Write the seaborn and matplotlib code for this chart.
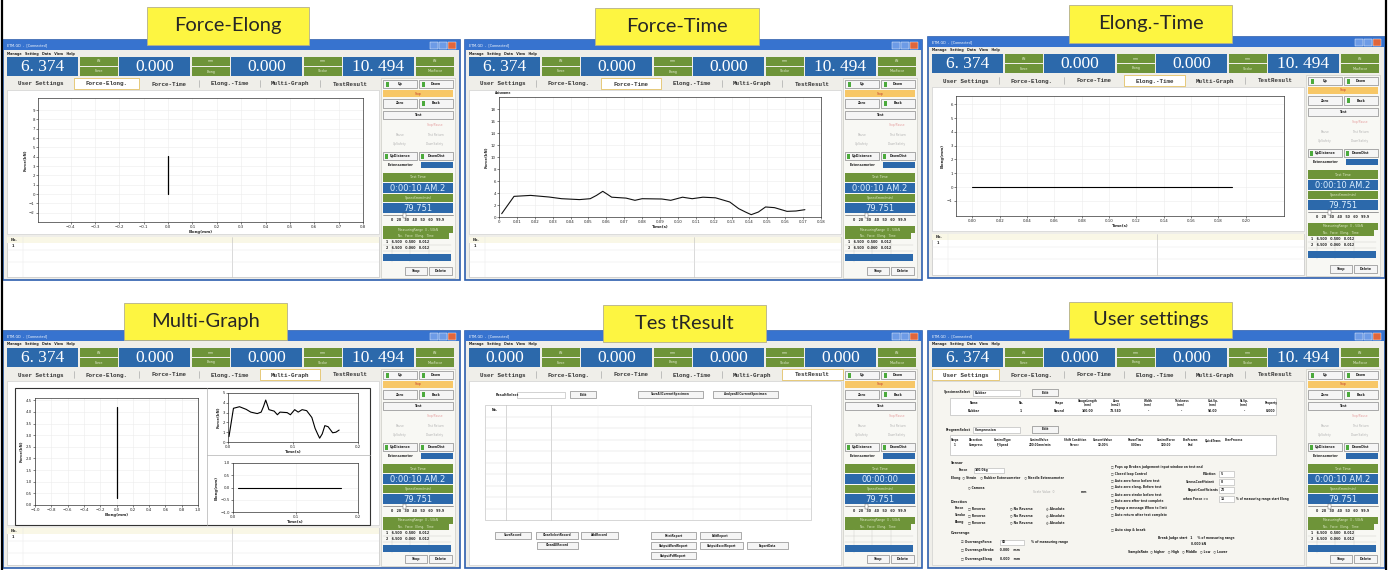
import numpy as np
import matplotlib
matplotlib.use('Agg')
import matplotlib.pyplot as plt
from matplotlib.patches import Rectangle
import seaborn as sns

# ---- values ----
panel_titles = ['Force-Elong', 'Force-Time', 'Elong.-Time', 'Multi-Graph', 'Tes tResult', 'User settings']
tab_names = ['User Settings', 'Force-Elong.', 'Force-Time', 'Elong.-Time', 'Multi-Graph', 'TestResult']
readouts = ['6. 374', '0.000', '0.000', '10. 494']
readouts_zero = ['0.000', '0.000', '0.000', '0.000']
readout_units = ['kN', 'mm', 'mm', 'kN']
readout_names = ['Force', 'Elong', 'Stroke', 'MaxForce']
clock_running = '0:00:10 AM.2'
clock_idle = '00:00:00'
speed_value = '79.751'
range_rows = ['1   6.500   0.500   0.012', '2   6.500   0.060   0.012']

# Force-Elong tab
fe_elong = [0.0, 0.0]
fe_force = [0.0, 4.1]

# Force-Time tab
ft_time = [0.0015, 0.004, 0.0084, 0.0177, 0.028, 0.035, 0.045, 0.051, 0.0545, 0.058, 0.0605, 0.063,
           0.071, 0.076, 0.080, 0.091, 0.096, 0.1026, 0.108, 0.114, 0.121, 0.129, 0.134, 0.138,
           0.141, 0.145, 0.149, 0.154, 0.161, 0.166, 0.171]
ft_force = [0.55, 1.6, 3.44, 3.6, 3.33, 3.05, 2.9, 3.05, 3.6, 4.28, 3.8, 3.3,
            3.15, 2.78, 3.05, 3.0, 2.78, 3.3, 3.05, 3.3, 3.2, 2.5, 1.39, 0.8,
            0.39, 0.83, 1.67, 1.56, 0.94, 1.0, 1.22]

# Elong-Time tab
et_time = [0.0, 0.19]
et_elong = [0.0, 0.0]

# Multi-Graph tab
mg_elong = [0.0, 0.0]
mg_force = [0.3, 4.2]
mg_time = [0.008, 0.172]
mg_elong_t = [0.0, 0.0]

# TestResult / User settings texts
result_buttons = ['SaveRecord', 'ClearSelectRecord', 'AddRecord', 'ClearAllRecord', 'PrintReport',
                  'EditReport', 'OutputWordReport', 'OutputExcelReport', 'ExportData', 'OutputPdfReport']
spec_headers = ['Name', 'No.', 'Shape', 'GaugeLength\n(mm)', 'Area\n(mm2)', 'Width\n(mm)',
                'Thickness\n(mm)', 'Cut.Sp.\n(mm)', 'St.Sp.\n(mm)', 'Property']
spec_values = ['Rubber', '1', 'Round', '100.00', '78.540', '-', '-', '50.00', '-', '0.000']
prog_headers = ['Steps', 'Direction', 'ControlType', 'ControlValue', 'Shift Condition',
                'ConvertValue', 'PauseTime', 'ControlForce', 'BeeFrozen', 'QuickTrans', 'BeerProcess']
prog_values = ['1', 'Compress', 'F_Speed', '200.00mm/min', 'Force>', '10.00%', '0.00ms', '100.00', 'End', '', '']
check_items = ['Pops up Broken judgement input window on test end', 'Closed loop Control',
               'Auto zero force before test', 'Auto zero elong. Before test',
               'Auto zero stroke before test', 'Auto zero after test complete',
               'Popup a message When to limit', 'Auto return after test complete']

FW, FH = 1389, 570
BLUE = '#2c69ab'
GREEN = '#6e9439'
FRAME = '#2d5fae'
TITLEBAR = '#3773cf'
TAB_EDGES = [4, 71, 136, 196, 257, 317, 378]

sns.set_theme(style='white')
plt.rcParams['font.family'] = ['DejaVu Sans']

fig = plt.figure(figsize=(FW / 100, FH / 100), dpi=100)
bg = fig.add_axes([0, 0, 1, 1])
bg.set_xlim(0, FW)
bg.set_ylim(FH, 0)
bg.axis('off')


def box(x, y, w, h, fc, ec='none', lw=0.4, z=2):
    bg.add_patch(Rectangle((x, y), w, h, facecolor=fc, edgecolor=ec, linewidth=lw, zorder=z))


def label(x, y, s, size=2.4, color='#222222', ha='left', z=6, **kw):
    bg.text(x, y, s, fontsize=size, color=color, ha=ha, va='center', zorder=z, **kw)


def line(xs, ys, color='#9a9a9a', lw=0.4, z=3):
    bg.plot(xs, ys, color=color, lw=lw, zorder=z)


def button(x, y, w, h, s, size=2.3):
    box(x, y, w, h, '#f5f5f5', '#6f6f6f', 0.4, z=4)
    label(x + w / 2, y + h / 2, s, size, ha='center', weight='bold')


def side_panel(x0, y0, h, clock, rows):
    px = x0 + 380
    box(px - 2, y0 + 38, 74, h - 40, '#f8f8f4', '#c4c4bc', 0.4)
    button(px, y0 + 40, 34, 8, 'Up')
    button(px + 36, y0 + 40, 34, 8, 'Down')
    box(px + 3, y0 + 41.5, 3, 5, '#4caa3c', z=5)
    box(px + 39, y0 + 41.5, 3, 5, '#4caa3c', z=5)
    box(px, y0 + 50, 70, 7, '#f7c766', z=3)
    label(px + 35, y0 + 53.5, 'Stop', 2.2, '#c0392b', 'center')
    button(px, y0 + 59, 34, 9, 'Zero')
    button(px + 36, y0 + 59, 34, 9, 'Back')
    box(px + 39, y0 + 61, 3, 5, '#4caa3c', z=5)
    button(px, y0 + 71, 70, 8, 'Test')
    label(px + 52, y0 + 85, 'Stop/Pause', 2.2, '#e6a0a0', 'center')
    label(px + 17, y0 + 95, 'Pause', 2.2, '#b4b4b4', 'center')
    label(px + 52, y0 + 95, 'Test Return', 2.2, '#b4b4b4', 'center')
    label(px + 17, y0 + 104, 'UpSafety', 2.2, '#b4b4b4', 'center')
    label(px + 52, y0 + 104, 'DownSafety', 2.2, '#b4b4b4', 'center')
    button(px, y0 + 112, 34, 8, 'UpDistance')
    button(px + 36, y0 + 112, 34, 8, 'DownDist')
    box(px + 2, y0 + 113.5, 3, 5, '#4caa3c', z=5)
    box(px + 38, y0 + 113.5, 3, 5, '#4caa3c', z=5)
    label(px + 18, y0 + 125, 'Extensometer', 2.3, ha='center', weight='bold')
    box(px + 38, y0 + 122, 32, 5.5, BLUE, z=3)
    box(px, y0 + 133, 70, 9, GREEN, z=3)
    label(px + 35, y0 + 137.5, 'Test Time', 2.4, '#dfe9c9', 'center')
    box(px, y0 + 143, 70, 10, BLUE, z=3)
    label(px + 35, y0 + 148.3, clock, 6, '#dcefff', 'center')
    box(px, y0 + 154, 70, 8, GREEN, z=3)
    label(px + 35, y0 + 158, 'Speed(mm/min)', 2.4, '#dfe9c9', 'center')
    box(px, y0 + 163, 70, 10, BLUE, z=3)
    label(px + 35, y0 + 168.3, speed_value, 6, '#dcefff', 'center')
    line([px, px + 70], [y0 + 175, y0 + 175], '#8a8a8a', 0.6)
    box(px + 20, y0 + 172.5, 3, 5, 'white', '#555555', 0.3, z=5)
    label(px + 35, y0 + 180, '0   20   30   40   50   60   99.9', 2.3, ha='center', weight='bold')
    box(px, y0 + 186, 70, 7, GREEN, z=3)
    label(px + 35, y0 + 189.5, 'MeasuringRange  0 - 50kN', 2.2, '#dfe9c9', 'center')
    box(px, y0 + 193, 66, 6, GREEN, z=3)
    label(px + 33, y0 + 196, 'No.   Force   Elong.   Time', 2.1, '#dfe9c9', 'center')
    for i in range(3):
        line([px, px + 68], [y0 + 205 + i * 6, y0 + 205 + i * 6], '#c8c8c8', 0.3)
    for c in [9, 27, 46]:
        line([px + c, px + c], [y0 + 199, y0 + 222], '#c8c8c8', 0.3)
    for i, r in enumerate(rows):
        label(px + 3, y0 + 202 + i * 6, r, 2.3, weight='bold')
    box(px, y0 + 214, 68, 7, BLUE, z=3)
    button(px + 22, y0 + h - 13, 22, 8, 'Stop')
    button(px + 46, y0 + h - 13, 23, 8, 'Delete')


def window(x0, y0, h, values, active, clock, rows):
    W = 457
    box(x0, y0, W, h, '#efeee9', FRAME, 1.2, z=1)
    box(x0, y0, W, 10, TITLEBAR)
    label(x0 + 4, y0 + 5, 'ETM-GD  -  [Connected]', 2.4, 'white')
    for i, c in enumerate(['#6d9be6', '#6d9be6', '#e0663c']):
        box(x0 + W - 30 + i * 9, y0 + 2, 8, 6.5, c, 'white', 0.3, z=3)
    label(x0 + 4, y0 + 13.5, 'Manage   Setting   Data   View   Help', 2.3, weight='bold')
    for i, v in enumerate(values):
        bx = x0 + 4 + i * 112
        box(bx, y0 + 17, 71, 19, BLUE, z=3)
        label(bx + 35.5, y0 + 26.8, v, 12.5, 'white', 'center', family='Liberation Serif')
        box(bx + 73, y0 + 17, 38, 9, GREEN, z=3)
        box(bx + 73, y0 + 27, 38, 9, GREEN, z=3)
        label(bx + 92, y0 + 21.5, readout_units[i], 2.3, '#e4ecd2', 'center')
        label(bx + 92, y0 + 31.5, readout_names[i], 2.3, '#e4ecd2', 'center')
    for i, name in enumerate(tab_names):
        a, b = TAB_EDGES[i], TAB_EDGES[i + 1]
        if i == active:
            box(x0 + a, y0 + 38, b - a, 11, 'white', '#e0b84a', 0.5, z=3)
        elif i < len(tab_names) - 1 and i + 1 != active:
            line([x0 + b, x0 + b], [y0 + 40, y0 + 47])
        label(x0 + (a + b) / 2, y0 + 44, name, 4.2, '#333333', 'center',
              family='Liberation Mono', weight='bold')
    side_panel(x0, y0, h, clock, rows)


def record_table(x0, y0, h):
    top, bot = y0 + 197, y0 + h - 3
    box(x0 + 4, top, 372, bot - top, 'white', '#b8b8b8', 0.4, z=3)
    box(x0 + 4, top, 372, 6, '#f9f7e6', z=3)
    label(x0 + 8, top + 3, 'No.', 2.5, weight='bold')
    label(x0 + 9, top + 9, '1', 2.5, weight='bold')
    line([x0 + 229, x0 + 229], [top, bot], '#bdbdbd', 0.4)
    line([x0 + 20, x0 + 20], [top, bot], '#e4e4e4', 0.3)
    for dy in [13, 25]:
        line([x0 + 4, x0 + 376], [top + dy, top + dy], '#e6e6e6', 0.3)


def chart_axes(x, y, w, h):
    ax = fig.add_axes([x / FW, 1 - (y + h) / FH, w / FW, h / FH])
    ax.set_facecolor('white')
    for s in ax.spines.values():
        s.set_linewidth(0.5)
        s.set_color('#333333')
    ax.tick_params(labelsize=2.8, length=1.5, width=0.4, pad=0.8, colors='#222222', left=True, bottom=True)
    ax.grid(True, color='#ececec', lw=0.4)
    return ax


def finish(ax, xl, yl):
    ax.set_xlabel(xl, fontsize=2.8, labelpad=0.6, weight='bold')
    ax.set_ylabel(yl, fontsize=2.8, labelpad=1.5, weight='bold')


# ---------------- row 1 ----------------
# Force-Elong
x0, y0 = 3, 40
window(x0, y0, 240, readouts, 1, clock_running, range_rows)
box(x0 + 4, y0 + 50, 372, 144, 'white', '#c8c8c8', 0.4, z=2)
record_table(x0, y0, 240)
ax = chart_axes(x0 + 35, y0 + 58, 325, 124)
sns.lineplot(x=fe_elong, y=fe_force, ax=ax, color='black', lw=0.9, estimator=None, sort=False)
ax.set_xlim(-0.534, 0.8)
ax.set_ylim(-3.0, 10.3)
ax.set_xticks(np.round(np.arange(-0.4, 0.81, 0.1), 1))
ax.set_yticks(np.arange(-2, 10))
finish(ax, 'Elong(mm)', 'Force(kN)')

# Force-Time
x0, y0 = 465, 40
window(x0, y0, 240, readouts, 2, clock_running, range_rows)
box(x0 + 4, y0 + 50, 372, 144, 'white', '#c8c8c8', 0.4, z=2)
record_table(x0, y0, 240)
ax = chart_axes(x0 + 34, y0 + 57, 322, 120)
sns.lineplot(x=ft_time, y=ft_force, ax=ax, color='#111111', lw=0.8, estimator=None, sort=False)
ax.set_xlim(0, 0.18)
ax.set_ylim(0, 20)
ax.set_xticks(np.round(np.arange(0, 0.181, 0.01), 2))
ax.set_xticklabels(['0'] + ['{:.2f}'.format(v) for v in np.arange(0.01, 0.181, 0.01)])
ax.set_yticks(np.arange(0, 19, 2))
finish(ax, 'Time(s)', 'Force(kN)')
label(x0 + 30, y0 + 53, 'Axisname', 2.2, weight='bold')

# Elong-Time
x0, y0 = 928, 37
window(x0, y0, 241, readouts, 3, clock_running, range_rows)
box(x0 + 4, y0 + 50, 372, 144, 'white', '#c8c8c8', 0.4, z=2)
record_table(x0, y0, 241)
ax = chart_axes(x0 + 28, y0 + 59, 328, 120)
sns.lineplot(x=et_time, y=et_elong, ax=ax, color='black', lw=0.8, estimator=None, sort=False)
ax.set_xlim(-0.012, 0.228)
ax.set_ylim(-2.1, 6.6)
ax.set_xticks(np.round(np.arange(0, 0.21, 0.02), 2))
ax.set_yticks(np.arange(-1, 7))
finish(ax, 'Time(s)', 'Elong(mm)')

# ---------------- row 2 ----------------
# Multi-Graph
x0, y0 = 3, 331
window(x0, y0, 237, readouts, 4, clock_running, range_rows)
box(x0 + 4, y0 + 50, 372, 144, 'white', '#c8c8c8', 0.4, z=2)
box(x0 + 12, y0 + 57, 355, 137, 'white', '#333333', 0.8, z=2)
line([x0 + 204, x0 + 204], [y0 + 57, y0 + 194], '#b0b0b0', 0.5)
line([x0 + 204, x0 + 367], [y0 + 124, y0 + 124], '#b0b0b0', 0.5)
record_table(x0, y0, 237)
ax = chart_axes(x0 + 32, y0 + 67, 163, 107)
sns.lineplot(x=mg_elong, y=mg_force, ax=ax, color='black', lw=0.9, estimator=None, sort=False)
ax.set_xlim(-1, 1)
ax.set_ylim(0, 4.6)
ax.set_xticks(np.round(np.arange(-1, 1.01, 0.2), 1))
ax.set_yticks(np.arange(0, 4.6, 0.5))
finish(ax, 'Elong(mm)', 'Force(kN)')
ax = chart_axes(x0 + 225, y0 + 62, 130, 49)
sns.lineplot(x=ft_time, y=ft_force, ax=ax, color='black', lw=0.8, estimator=None, sort=False)
ax.set_xlim(0, 0.2)
ax.set_ylim(0, 5)
ax.set_xticks([0, 0.1, 0.2])
ax.set_yticks(np.arange(0, 6))
finish(ax, 'Time(s)', 'Force(kN)')
ax = chart_axes(x0 + 230, y0 + 132, 125, 49)
sns.lineplot(x=mg_time, y=mg_elong_t, ax=ax, color='black', lw=0.8, estimator=None, sort=False)
ax.set_xlim(0, 0.2)
ax.set_ylim(-1, 1)
ax.set_xticks([0, 0.1, 0.2])
ax.set_yticks([-1, -0.5, 0, 0.5, 1])
finish(ax, 'Time(s)', 'Elong(mm)')

# TestResult
x0, y0 = 465, 331
window(x0, y0, 237, readouts_zero, 5, clock_idle, [])
box(x0 + 4, y0 + 50, 372, 184, 'white', '#c8c8c8', 0.4, z=2)
label(x0 + 31, y0 + 64, 'ResultSelect', 2.3, weight='bold')
box(x0 + 52, y0 + 61, 48, 6, 'white', '#b0b0b0', 0.4, z=3)
button(x0 + 105, y0 + 60, 26, 7, 'Edit')
button(x0 + 173, y0 + 60, 65, 7, 'SaveAllCurrentSpecimen', 2.0)
button(x0 + 248, y0 + 60, 65, 7, 'AnalyzeAllCurrentSpecimen', 2.0)
box(x0 + 20, y0 + 74, 326, 115, 'white', '#b8b8b8', 0.4, z=3)
for c in [41, 86]:
    line([x0 + c, x0 + c], [y0 + 74, y0 + 189], '#b8b8b8', 0.4)
for c in [133, 180, 228, 275, 322]:
    line([x0 + c, x0 + c], [y0 + 74, y0 + 189], '#ececec', 0.3)
for r in range(1, 10):
    line([x0 + 20, x0 + 346], [y0 + 74 + r * 11.5, y0 + 74 + r * 11.5], '#dddddd', 0.35)
label(x0 + 27, y0 + 79, 'No.', 2.3, weight='bold')
btn_pos = [(30, 201, 36), (71, 201, 42), (116, 201, 37), (72, 211, 41), (186, 201, 45),
           (235, 201, 41), (186, 211, 45), (235, 211, 43), (282, 211, 41), (186, 221, 45)]
for name, (bx, by, bw) in zip(result_buttons, btn_pos):
    button(x0 + bx, y0 + by, bw, 7, name, 2.0)

# User settings
x0, y0 = 928, 331
window(x0, y0, 237, readouts, 0, clock_running, range_rows)
box(x0 + 4, y0 + 50, 372, 184, '#f6f5f0', '#c8c8c8', 0.4, z=2)
label(x0 + 16, y0 + 61.5, 'SpecimenSelect', 2.2, weight='bold')
box(x0 + 45, y0 + 58.5, 47, 6, 'white', '#b0b0b0', 0.4, z=3)
label(x0 + 47, y0 + 61.5, 'Rubber', 2.2, weight='bold')
button(x0 + 104, y0 + 58, 26, 7, 'Edit')
box(x0 + 22, y0 + 67, 326, 17, 'white', '#b0b0b0', 0.4, z=3)
spec_x = [46, 93, 131, 160, 188, 220, 253, 285, 316, 343]
for cx, hd, v in zip(spec_x, spec_headers, spec_values):
    label(x0 + cx, y0 + 72, hd, 1.9, ha='center', weight='bold', linespacing=0.9)
    label(x0 + cx, y0 + 80, v, 2.2, ha='center', weight='bold')
label(x0 + 18, y0 + 99, 'ProgramSelect', 2.2, weight='bold')
box(x0 + 45, y0 + 96, 47, 6, 'white', '#b0b0b0', 0.4, z=3)
label(x0 + 47, y0 + 99, 'Compression', 2.2, weight='bold')
button(x0 + 104, y0 + 95, 26, 7, 'Edit')
box(x0 + 22, y0 + 104, 326, 20, 'white', '#b0b0b0', 0.4, z=3)
prog_x = [27, 48, 75, 112, 147, 175, 208, 238, 262, 285, 306]
for cx, hd, v in zip(prog_x, prog_headers, prog_values):
    label(x0 + cx, y0 + 109, hd, 1.9, ha='center', weight='bold')
    label(x0 + cx, y0 + 114, v, 1.9, ha='center', weight='bold')
label(x0 + 23, y0 + 132, 'Sensor', 2.3, weight='bold')
label(x0 + 31, y0 + 139, 'Force', 2.2, weight='bold')
box(x0 + 46, y0 + 136.5, 30, 5.5, 'white', '#b0b0b0', 0.4, z=3)
label(x0 + 47, y0 + 139, '100.0kg', 2.2, weight='bold')
label(x0 + 23, y0 + 147, 'Elong  ○ Strain    ○ Rubber Extensometer    ○ Needle Extensometer', 2.2, weight='bold')
label(x0 + 40, y0 + 156, '○ Camera', 2.2, weight='bold')
label(x0 + 105, y0 + 161, 'Scale Value  0', 2.2, '#aaaaaa')
label(x0 + 153, y0 + 161, 'mm', 2.2, weight='bold')
label(x0 + 23, y0 + 171, 'Direction', 2.3, weight='bold')
for i, nm in enumerate(['Force', 'Stroke', 'Elong']):
    yy = y0 + 177 + i * 7
    label(x0 + 27, yy, nm, 2.2, weight='bold')
    label(x0 + 40, yy, '□ Reverse', 2.2, weight='bold')
    label(x0 + 82, yy, '○ No Reverse', 2.2, weight='bold')
    label(x0 + 118, yy, '◎ Absolute', 2.2, weight='bold')
label(x0 + 23, y0 + 202, 'Overrange', 2.3, weight='bold')
label(x0 + 33, y0 + 211, '☑ OverrangeForce', 2.2, weight='bold')
box(x0 + 72, y0 + 208.5, 24, 5.5, 'white', '#b0b0b0', 0.4, z=3)
label(x0 + 74, y0 + 211, '80', 2.2, weight='bold')
label(x0 + 103, y0 + 211, '% of measuring range', 2.2, weight='bold')
label(x0 + 33, y0 + 219, '□ OverrangeStroke      0.000    mm', 2.2, weight='bold')
label(x0 + 33, y0 + 228, '□ OverrangeElong        0.000    mm', 2.2, weight='bold')
for i, s in enumerate(check_items):
    label(x0 + 183, y0 + 136 + i * 6.8, '□ ' + s, 2.1, weight='bold')
label(x0 + 275, y0 + 143, 'P.Action', 2.2, weight='bold')
label(x0 + 258, y0 + 151, 'StressCoefficient', 2.2, weight='bold')
label(x0 + 260, y0 + 159, 'RepairCoefficients', 2.2, weight='bold')
label(x0 + 255, y0 + 168, 'when Force >=', 2.2, weight='bold')
for yy, v in zip([143, 151, 159, 168], ['5', '8', '20', '15']):
    box(x0 + 291, y0 + yy - 3, 15, 6, 'white', '#b0b0b0', 0.4, z=3)
    label(x0 + 293, y0 + yy, v, 2.2, weight='bold')
label(x0 + 308, y0 + 168, '% of measuring range start Elong', 2.0, weight='bold')
label(x0 + 183, y0 + 199, '□ Auto stop & break', 2.2, weight='bold')
label(x0 + 230, y0 + 207, 'Break Judge start   1     % of measuring range', 2.2, weight='bold')
label(x0 + 263, y0 + 213, '0.000 kN', 2.2, weight='bold')
label(x0 + 200, y0 + 221, 'SampleRate  ○ higher   ○ High   ○ Middle   ○ Low   ○ Lower', 2.2, weight='bold')

# ---------------- captions and page border ----------------
yellow_boxes = [(147, 7, 162, 38), (595, 8, 164, 37), (1069, 5, 163, 38),
                (124, 303, 163, 37), (603, 305, 163, 37), (1069, 302, 163, 36)]
for (bx, by, bw, bh), t in zip(yellow_boxes, panel_titles):
    box(bx, by, bw, bh, '#fdf541', '#b4b08c', 0.6, z=8)
    label(bx + bw / 2, by + bh / 2, t, 14.5, '#262626', 'center', z=9, family='Lato')

line([2, 2], [0, FH], 'black', 1.6, z=9)
line([1386, 1386], [0, FH], 'black', 1.6, z=9)

fig.savefig('out.png', dpi=100)
plt.close(fig)
